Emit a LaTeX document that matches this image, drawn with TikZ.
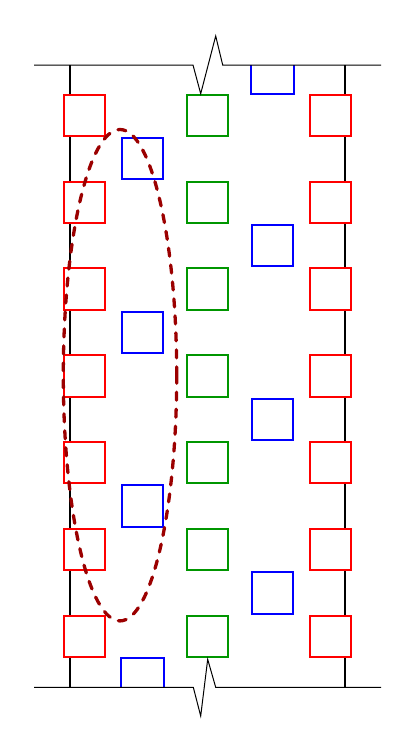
\documentclass[tikz,border=0pt]{standalone}
\usetikzlibrary{calc}
\definecolor{sqred}{RGB}{255,0,0}
\definecolor{sqgreen}{RGB}{0,150,0}
\definecolor{sqblue}{RGB}{0,0,255}
\definecolor{ellred}{RGB}{155,0,0}
\tikzset{
  sq/.style={draw=#1, line width=2pt, fill=white, minimum size=41.4pt, inner sep=0pt, outer sep=0pt},
  wall/.style={black, line width=1.6pt},
  border/.style={black, line width=1pt, line join=miter},
  halfsq/.style={draw=sqblue, line width=2pt},
  ring/.style={draw=ellred, line width=3.3pt, line cap=round, dash pattern=on 8pt off 9pt}
}
\begin{document}
\begin{tikzpicture}[x=1pt,y=-1pt]
\useasboundingbox (0,0) rectangle (417,745);
% walls
\coordinate (wl1) at (70,65); \coordinate (wl2) at (70,687.3);
\coordinate (wr1) at (345,65); \coordinate (wr2) at (345,687.3);
\draw[wall] (wl1) -- (wl2);
\draw[wall] (wr1) -- (wr2);
% rows of red and green squares
\foreach \k in {0,...,6}{
  \pgfmathsetmacro{\yc}{93.7+21.7+86.8*\k}
  \node[sq=sqred] (rl\k) at (84.35,\yc) {};
  \node[sq=sqgreen] (g\k) at (207.5,\yc) {};
  \node[sq=sqred] (rr\k) at (330.35,\yc) {};
}
% blue squares, left column
\foreach \k in {0,1,2}{
  \pgfmathsetmacro{\yc}{137+21.7+173.6*\k}
  \node[sq=sqblue] (bl\k) at (142.35,\yc) {};
}
% blue squares, right column
\foreach \k in {0,1,2}{
  \pgfmathsetmacro{\yc}{223.9+21.7+173.6*\k}
  \node[sq=sqblue] (br\k) at (272.35,\yc) {};
}
% clipped blue squares at the ends
\draw[halfsq] (250.7,65) -- (250.7,93.7) -- (294,93.7) -- (294,65);
\draw[halfsq] (120.7,687.3) -- (120.7,657.7) -- (164,657.7) -- (164,687.3);
% break lines
\draw[border] (34,65) -- (193,65) -- (200.7,93.7) -- (215.7,36) -- (222.7,65) -- (381,65);
\draw[border] (34,687.3) -- (193.3,687.3) -- (200.7,716) -- (207.7,659.3) -- (215.7,687.3) -- (381,687.3);
% ellipse
\draw[ring] (120,375.2) ellipse [x radius=56.7, y radius=245.7];
\end{tikzpicture}
\end{document}
